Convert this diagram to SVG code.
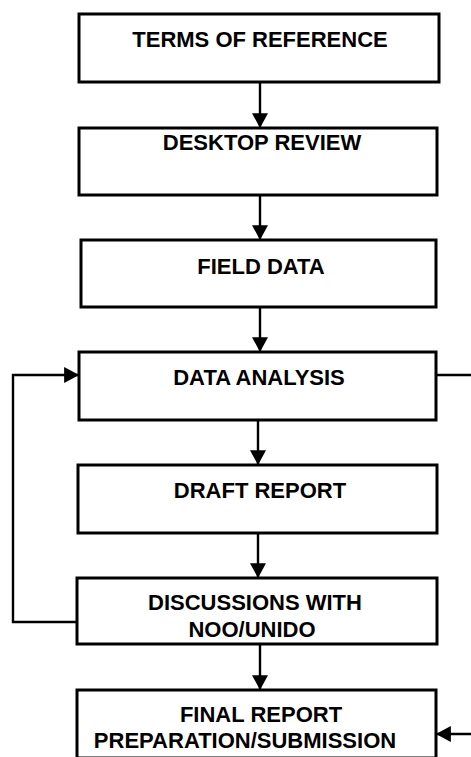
<svg xmlns="http://www.w3.org/2000/svg" width="471" height="757" viewBox="0 0 471 757">
<style>
.box{fill:#fff;stroke:#000;stroke-width:3}
.lbl{font-family:"Liberation Sans",Arial,sans-serif;font-weight:bold;font-size:22px;fill:#000;text-anchor:middle}
.con{fill:none;stroke:#000;stroke-width:2.4}
</style>
<defs>
<marker id="ah" markerUnits="userSpaceOnUse" markerWidth="16" markerHeight="16" viewBox="0 0 14 15" refX="13" refY="7.5" orient="auto">
<path d="M0,0 L14,7.5 L0,15 Z" fill="#000"/>
</marker>
</defs>
<rect width="471" height="757" fill="#fff"/>
<g id="connectors">
<line class="con" x1="260" y1="82" x2="260" y2="127" marker-end="url(#ah)"/>
<line class="con" x1="260" y1="195" x2="260" y2="239" marker-end="url(#ah)"/>
<line class="con" x1="260" y1="307" x2="260" y2="351" marker-end="url(#ah)"/>
<line class="con" x1="258" y1="420" x2="258" y2="464" marker-end="url(#ah)"/>
<line class="con" x1="258" y1="533" x2="258" y2="577" marker-end="url(#ah)"/>
<line class="con" x1="260" y1="644" x2="260" y2="689" marker-end="url(#ah)"/>
<polyline class="con" points="77,622 13,622 13,375 78,375" marker-end="url(#ah)"/>
<line class="con" x1="436" y1="375" x2="471" y2="375"/>
<line class="con" x1="471" y1="734" x2="437" y2="734" marker-end="url(#ah)"/>
</g>
<g id="terms">
<rect class="box" x="79" y="14" width="360" height="68"/>
<text class="lbl" x="260" y="47">TERMS OF REFERENCE</text>
</g>
<g id="desktop">
<rect class="box" x="79" y="128" width="358" height="67"/>
<text class="lbl" x="262" y="150">DESKTOP REVIEW</text>
</g>
<g id="field">
<rect class="box" x="81" y="240" width="355" height="67"/>
<text class="lbl" x="261" y="274">FIELD DATA</text>
</g>
<g id="analysis">
<rect class="box" x="79" y="352" width="357" height="68"/>
<text class="lbl" x="259" y="385">DATA ANALYSIS</text>
</g>
<g id="draft">
<rect class="box" x="78" y="465" width="359" height="68"/>
<text class="lbl" x="260" y="498">DRAFT REPORT</text>
</g>
<g id="discussions">
<rect class="box" x="77" y="578" width="360" height="66"/>
<text class="lbl" x="255" y="610">DISCUSSIONS WITH</text>
<text class="lbl" x="252" y="637">NOO/UNIDO</text>
</g>
<g id="final">
<rect class="box" x="77" y="690" width="359" height="68"/>
<text class="lbl" x="261" y="722">FINAL REPORT</text>
<text class="lbl" x="245" y="748">PREPARATION/SUBMISSION</text>
</g>
</svg>
